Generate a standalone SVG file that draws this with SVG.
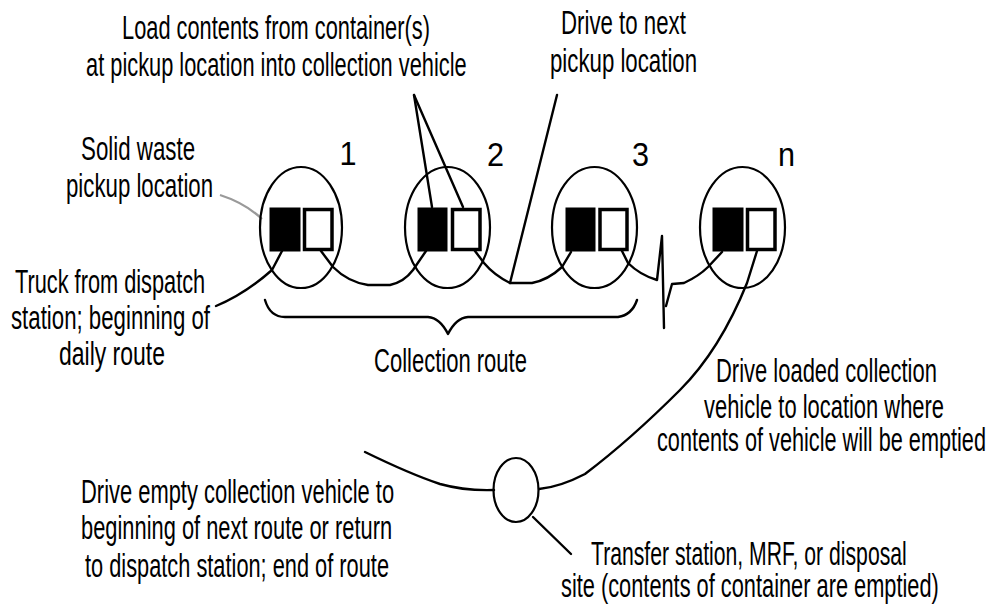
<svg xmlns="http://www.w3.org/2000/svg" width="988" height="606" viewBox="0 0 988 606">
<style>
  .bg{fill:#ffffff}
  .loc{fill:none;stroke:#000;stroke-width:2.2}
  .full{fill:#000;stroke:#000;stroke-width:1}
  .empty{fill:#fff;stroke:#000;stroke-width:3.5}
  .ln{fill:none;stroke:#000;stroke-width:2.4;stroke-linecap:round;stroke-linejoin:round}
  .gray{fill:none;stroke:#9a9a9a;stroke-width:2.2}
  text{font-family:"Liberation Sans",Arial,sans-serif;font-size:34px;fill:#000}
</style>
<rect class="bg" x="0" y="0" width="988" height="606"/>

<g id="connectors">
  <path class="ln" d="M414,95 L432,207"/>
  <path class="ln" d="M414,95 L463,207"/>
  <path class="ln" d="M557,95 L510,283"/>
  <path class="gray" d="M220,195 Q245,203 262,219"/>
  <path class="ln" d="M216,306 Q245,294 272,270 L282,251"/>
  <path class="ln" d="M321,251 L333,267 Q348,282 368,285 L390,285 Q404,282 413,270 L426,251"/>
  <path class="ln" d="M475,251 L484,263 Q494,275 510,283 L532,283 Q548,280 562,267 L571,252"/>
  <path class="ln" d="M622,251 L628,263 Q640,275 657,280 L662,236 L664,328"/>
  <path class="ln" d="M666,306 L672,284 L684,283 Q699,276 708,267 L722,252"/>
  <path class="ln" d="M757,251 L747,283 Q720,350 680,390 Q630,440 585,474 Q560,487 539,489"/>
  <path class="ln" d="M365,452 Q410,474 440,484 Q465,491 494,490"/>
  <path class="ln" d="M533,517 L571,554"/>
  <path class="ln" d="M265,300 Q270,317 285,317 L428,317 Q440,318 448,334 Q456,318 468,317 L618,317 Q632,315 637,300"/>
</g>

<g id="loc1">
  <ellipse class="loc" cx="301" cy="227.5" rx="41" ry="60.5"/>
  <rect class="full" x="270" y="208" width="30" height="43"/>
  <rect class="empty" x="304.5" y="209.5" width="27.5" height="40"/>
</g>
<g id="loc2">
  <ellipse class="loc" cx="447.5" cy="227.5" rx="42.5" ry="60.5"/>
  <rect class="full" x="418" y="208" width="29" height="43"/>
  <rect class="empty" x="452.5" y="209.5" width="27.5" height="40"/>
</g>
<g id="loc3">
  <ellipse class="loc" cx="594.5" cy="227.5" rx="42.5" ry="60.5"/>
  <rect class="full" x="566" y="208" width="29" height="43"/>
  <rect class="empty" x="600" y="209.5" width="27" height="40"/>
</g>
<g id="locn">
  <ellipse class="loc" cx="742.5" cy="227.5" rx="42.5" ry="60.5"/>
  <rect class="full" x="713" y="208" width="30" height="43"/>
  <rect class="empty" x="747.5" y="209.5" width="27.5" height="40"/>
</g>
<g id="transfer">
  <ellipse class="loc" cx="516" cy="490" rx="22.5" ry="32"/>
</g>

<g id="labels">
  <text transform="translate(339.5,165) scale(0.9,1)">1</text>
  <text transform="translate(487,166) scale(0.9,1)">2</text>
  <text transform="translate(632,166) scale(0.9,1)">3</text>
  <text transform="translate(778,166) scale(0.9,1)">n</text>

  <text transform="translate(122,39) scale(0.642,1)">Load contents from container(s)</text>
  <text transform="translate(86,76) scale(0.642,1)">at pickup location into collection vehicle</text>

  <text transform="translate(561,34) scale(0.655,1)">Drive to next</text>
  <text transform="translate(550,72) scale(0.654,1)">pickup location</text>

  <text transform="translate(81,160) scale(0.656,1)">Solid waste</text>
  <text transform="translate(66,197) scale(0.654,1)">pickup location</text>

  <text transform="translate(15,293) scale(0.64,1)">Truck from dispatch</text>
  <text transform="translate(11,329) scale(0.654,1)">station; beginning of</text>
  <text transform="translate(59,365) scale(0.676,1)">daily route</text>

  <text transform="translate(374,372) scale(0.648,1)">Collection route</text>

  <text transform="translate(716,382) scale(0.646,1)">Drive loaded collection</text>
  <text transform="translate(704,418) scale(0.645,1)">vehicle to location where</text>
  <text transform="translate(657,451) scale(0.638,1)">contents of vehicle will be emptied</text>

  <text transform="translate(81,503) scale(0.645,1)">Drive empty collection vehicle to</text>
  <text transform="translate(81,539) scale(0.643,1)">beginning of next route or return</text>
  <text transform="translate(85,577) scale(0.641,1)">to dispatch station; end of route</text>

  <text transform="translate(591,565) scale(0.623,1)">Transfer station, MRF, or disposal</text>
  <text transform="translate(561,597) scale(0.641,1)">site (contents of container are emptied)</text>
</g>
</svg>
